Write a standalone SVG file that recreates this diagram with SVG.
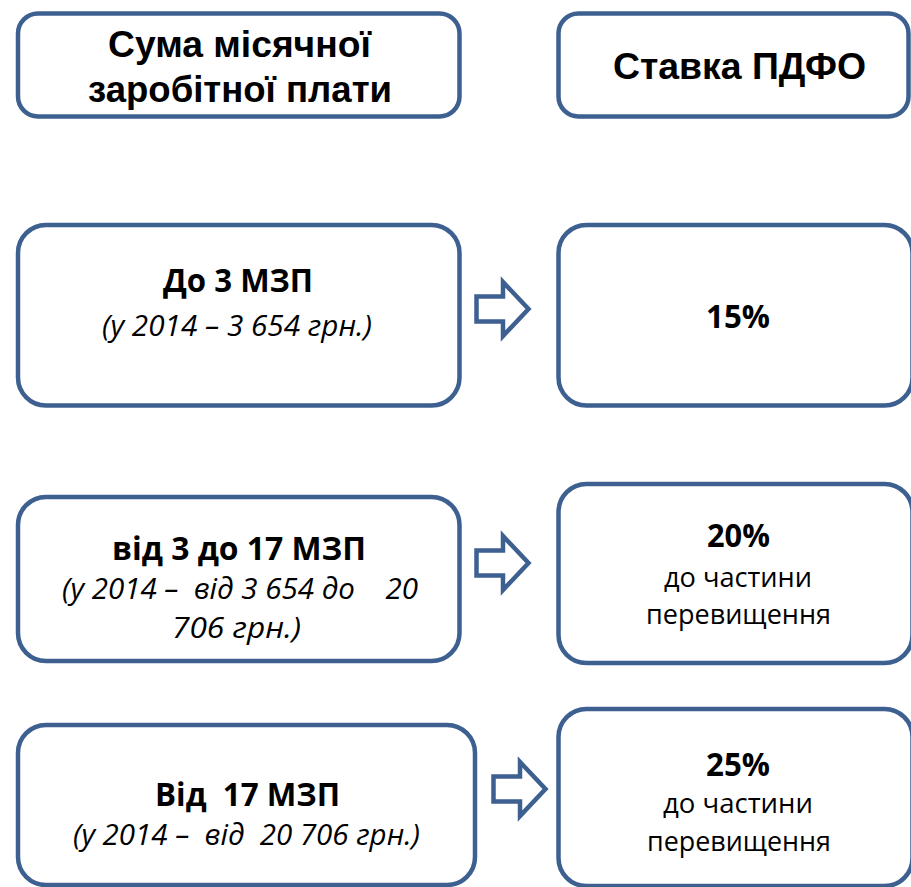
<svg xmlns="http://www.w3.org/2000/svg" xmlns:xlink="http://www.w3.org/1999/xlink" width="911" height="887" viewBox="0 0 911 887">
<style>
.box{fill:#fff;stroke:#3D6090;stroke-width:4.5}
.arr{fill:#fff;stroke:#3D6090;stroke-width:4.5;stroke-linejoin:miter}
.hd{font-family:"Liberation Sans",Arial,sans-serif;font-weight:bold;font-size:37px;fill:#000}
.b{font-family:"Open Sans","Noto Sans",sans-serif;font-weight:bold;font-size:33px;fill:#000;white-space:pre}
.i{font-family:"Open Sans","Noto Sans",sans-serif;font-style:italic;font-size:30px;fill:#000;white-space:pre}
.r{font-family:"Open Sans","Noto Sans",sans-serif;font-size:28px;fill:#000}
</style>
<defs>
<path id="arrow" d="M476.5,296.5 H503 V282 L528.5,309 L503,336 V321.5 H476.5 Z"/>
</defs>
<rect width="911" height="887" fill="#fff"/>
<g id="connectors">
<use xlink:href="#arrow" href="#arrow" class="arr"/>
<use xlink:href="#arrow" href="#arrow" class="arr" transform="translate(0,254)"/>
<use xlink:href="#arrow" href="#arrow" class="arr" transform="translate(17,480)"/>
</g>
<g id="head-salary">
<rect class="box" x="18" y="13.5" width="441.5" height="103" rx="20"/>
<text class="hd" x="108" y="57" textLength="263" lengthAdjust="spacingAndGlyphs">Сума місячної</text>
<text class="hd" x="88" y="102" textLength="304" lengthAdjust="spacingAndGlyphs">заробітної плати</text>
</g>
<g id="head-rate">
<rect class="box" x="558.5" y="13.5" width="350" height="103" rx="20"/>
<text class="hd" x="613" y="79" textLength="253" lengthAdjust="spacingAndGlyphs">Ставка ПДФО</text>
</g>
<g id="row1-left">
<rect class="box" x="18" y="225" width="441.5" height="180.5" rx="28"/>
<text class="b" x="163" y="292" textLength="150" lengthAdjust="spacingAndGlyphs">До 3 МЗП</text>
<text class="i" x="102" y="336" textLength="270" lengthAdjust="spacingAndGlyphs">(у 2014 – 3 654 грн.)</text>
</g>
<g id="row1-right">
<rect class="box" x="558.5" y="225" width="354" height="180.5" rx="28"/>
<text class="b" x="706" y="328" textLength="64" lengthAdjust="spacingAndGlyphs">15%</text>
</g>
<g id="row2-left">
<rect class="box" x="18" y="497" width="441.5" height="164" rx="28"/>
<text class="b" x="112" y="560" textLength="254" lengthAdjust="spacingAndGlyphs">від 3 до 17 МЗП</text>
<text class="i" x="62" y="599" textLength="356" lengthAdjust="spacingAndGlyphs">(у 2014 –  від 3 654 до    20</text>
<text class="i" x="172" y="638" textLength="129" lengthAdjust="spacingAndGlyphs">706 грн.)</text>
</g>
<g id="row2-right">
<rect class="box" x="558.5" y="484" width="354" height="179" rx="28"/>
<text class="b" x="707" y="547" textLength="63" lengthAdjust="spacingAndGlyphs">20%</text>
<text class="r" x="664" y="587" textLength="148" lengthAdjust="spacingAndGlyphs">до частини</text>
<text class="r" x="646" y="624" textLength="185" lengthAdjust="spacingAndGlyphs">перевищення</text>
</g>
<g id="row3-left">
<rect class="box" x="18" y="725" width="457" height="160" rx="28"/>
<text class="b" x="155" y="806" textLength="185" lengthAdjust="spacingAndGlyphs">Від  17 МЗП</text>
<text class="i" x="73" y="845" textLength="347" lengthAdjust="spacingAndGlyphs">(у 2014 –  від  20 706 грн.)</text>
</g>
<g id="row3-right">
<rect class="box" x="558.5" y="709" width="354" height="177" rx="28"/>
<text class="b" x="706" y="776" textLength="64" lengthAdjust="spacingAndGlyphs">25%</text>
<text class="r" x="663" y="813" textLength="150" lengthAdjust="spacingAndGlyphs">до частини</text>
<text class="r" x="647" y="851" textLength="184" lengthAdjust="spacingAndGlyphs">перевищення</text>
</g>
</svg>
